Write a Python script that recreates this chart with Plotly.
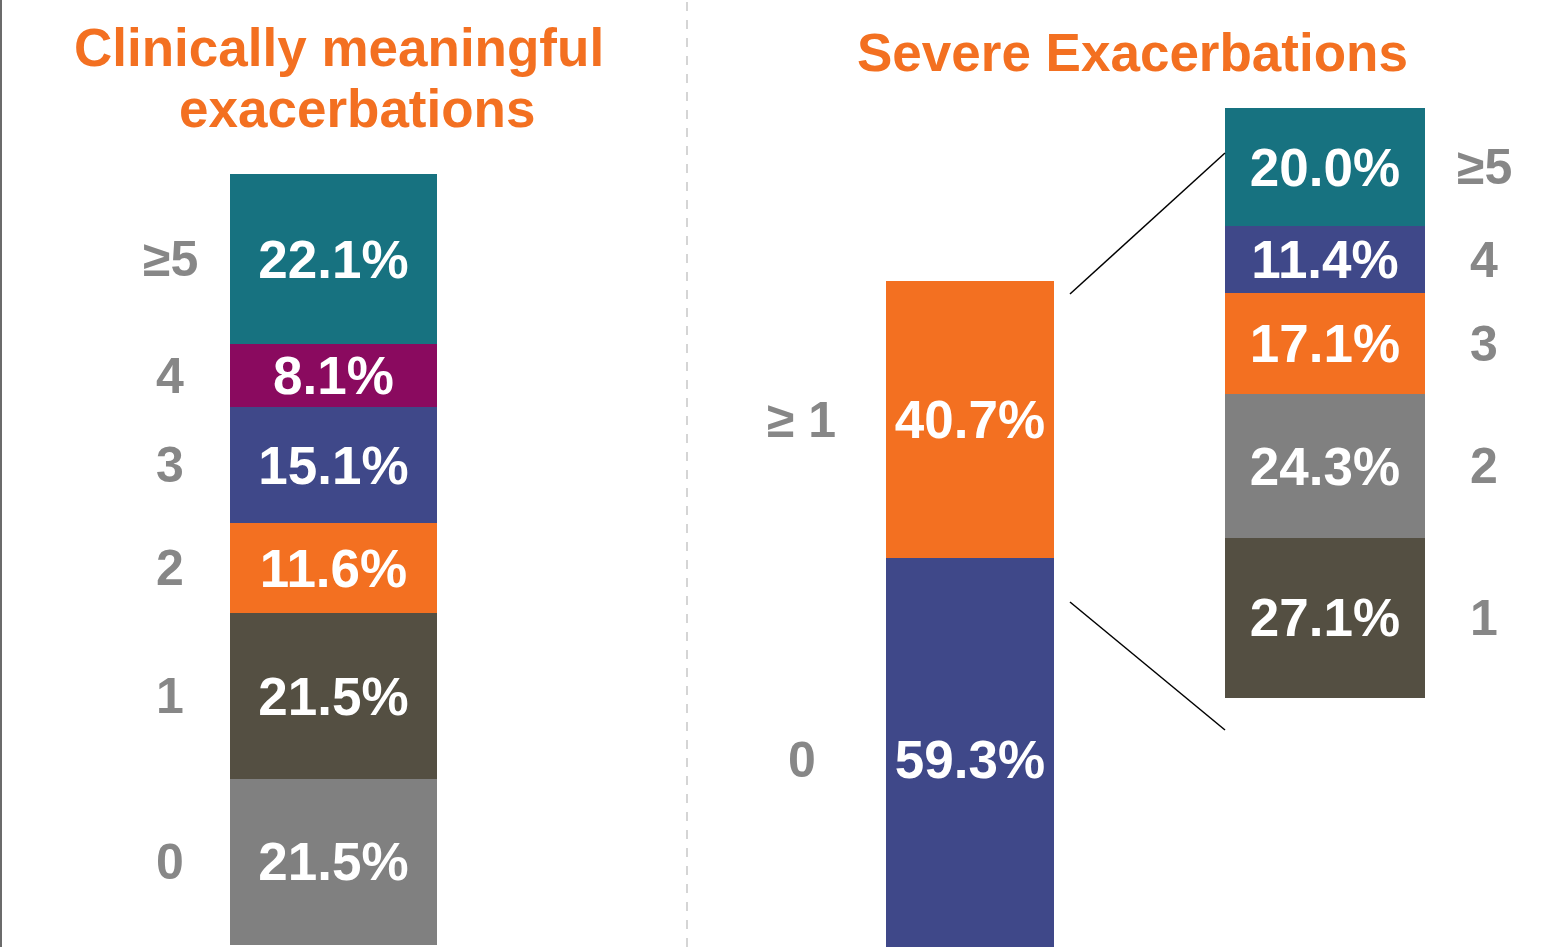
import plotly.graph_objects as go

# ---------------- data ----------------
left_cats = ["0", "1", "2", "3", "4", "≥5"]
left_vals = [21.5, 21.5, 11.6, 15.1, 8.1, 22.1]
left_colors = ["#808080", "#544F42", "#F37021", "#3F4889", "#8A0A5F", "#177280"]

mid_cats = ["0", "≥ 1"]
mid_vals = [59.3, 40.7]
mid_colors = ["#3F4889", "#F37021"]

right_cats = ["1", "2", "3", "4", "≥5"]
right_vals = [27.1, 24.3, 17.1, 11.4, 20.0]
right_colors = ["#544F42", "#808080", "#F37021", "#3F4889", "#177280"]

title_left = ["Clinically meaningful", "exacerbations"]
title_right = "Severe Exacerbations"

W, H = 1566, 947
FONT = "Liberation Sans, Arial, sans-serif"
ORANGE = "#F37021"
GRAY_TXT = "#878787"

fig = go.Figure()

def add_bar(cats, vals, colors, xa, ya):
    for c, v, col in zip(cats, vals, colors):
        fig.add_trace(go.Bar(
            x=[0], y=[v], name=c, xaxis=xa, yaxis=ya,
            marker=dict(color=col, line=dict(width=0)),
            width=1.0,
            texttemplate="%{y:.1f}%", textposition="inside",
            insidetextanchor="middle", constraintext="none",
            textfont=dict(family=FONT, size=53, color="white", weight="bold"),
            showlegend=False, hoverinfo="skip",
        ))

add_bar(left_cats, left_vals, left_colors, "x", "y")
add_bar(mid_cats, mid_vals, mid_colors, "x2", "y2")
add_bar(right_cats, right_vals, right_colors, "x3", "y3")

def px_x(p):
    return p / W

def px_y(p):
    return 1 - p / H

ax_common = dict(showgrid=False, zeroline=False, showticklabels=False,
                 showline=False, ticks="", fixedrange=True)

fig.update_layout(
    width=W, height=H,
    margin=dict(l=0, r=0, t=0, b=0),
    paper_bgcolor="white", plot_bgcolor="rgba(0,0,0,0)",
    barmode="stack",
    xaxis=dict(domain=[px_x(230), px_x(437)], range=[-0.5, 0.5], **ax_common),
    yaxis=dict(domain=[0, 1], range=[-0.26, 122.4], **ax_common),
    xaxis2=dict(domain=[px_x(886), px_x(1054)], range=[-0.5, 0.5], anchor="y2", **ax_common),
    yaxis2=dict(domain=[0, 1], range=[2.15, 141.3], anchor="x2", **ax_common),
    xaxis3=dict(domain=[px_x(1225), px_x(1425)], range=[-0.5, 0.5], anchor="y3", **ax_common),
    yaxis3=dict(domain=[0, 1], range=[-42.2, 118.2], anchor="x3", **ax_common),
)

annotations = []

def cat_labels(cats, vals, yref, xpx):
    cum = 0
    for c, v in zip(cats, vals):
        mid = cum + v / 2
        cum += v
        annotations.append(dict(
            text=c, x=px_x(xpx), xref="paper", y=mid, yref=yref,
            xanchor="center", yanchor="middle", showarrow=False,
            font=dict(family=FONT, size=50, color=GRAY_TXT, weight="bold"),
        ))

cat_labels(left_cats, left_vals, "y", 170)
cat_labels(mid_cats, mid_vals, "y2", 802)
cat_labels(right_cats, right_vals, "y3", 1484)

# titles
annotations.append(dict(text=title_left[0], x=px_x(339), y=px_y(47), xref="paper", yref="paper",
                        xanchor="center", yanchor="middle", showarrow=False,
                        font=dict(family=FONT, size=53, color=ORANGE, weight="bold")))
annotations.append(dict(text=title_left[1], x=px_x(357), y=px_y(108), xref="paper", yref="paper",
                        xanchor="center", yanchor="middle", showarrow=False,
                        font=dict(family=FONT, size=53, color=ORANGE, weight="bold")))
annotations.append(dict(text=title_right, x=px_x(1132), y=px_y(52), xref="paper", yref="paper",
                        xanchor="center", yanchor="middle", showarrow=False,
                        font=dict(family=FONT, size=53, color=ORANGE, weight="bold")))

fig.update_layout(annotations=annotations)

shapes = [
    # left frame line
    dict(type="line", xref="paper", yref="paper", x0=px_x(1), x1=px_x(1), y0=0, y1=1,
         line=dict(color="#6b6b6b", width=2)),
    # dashed separator
    dict(type="line", xref="paper", yref="paper", x0=px_x(687), x1=px_x(687), y0=0, y1=1,
         line=dict(color="#c8c8c8", width=1.5, dash="dash")),
    # zoom connector lines
    dict(type="line", xref="paper", yref="paper", x0=px_x(1070), y0=px_y(294),
         x1=px_x(1225), y1=px_y(153), line=dict(color="black", width=1.5)),
    dict(type="line", xref="paper", yref="paper", x0=px_x(1070), y0=px_y(602),
         x1=px_x(1225), y1=px_y(730), line=dict(color="black", width=1.5)),
]
fig.update_layout(shapes=shapes)

fig.write_html("out.html", config={"displayModeBar": False})
